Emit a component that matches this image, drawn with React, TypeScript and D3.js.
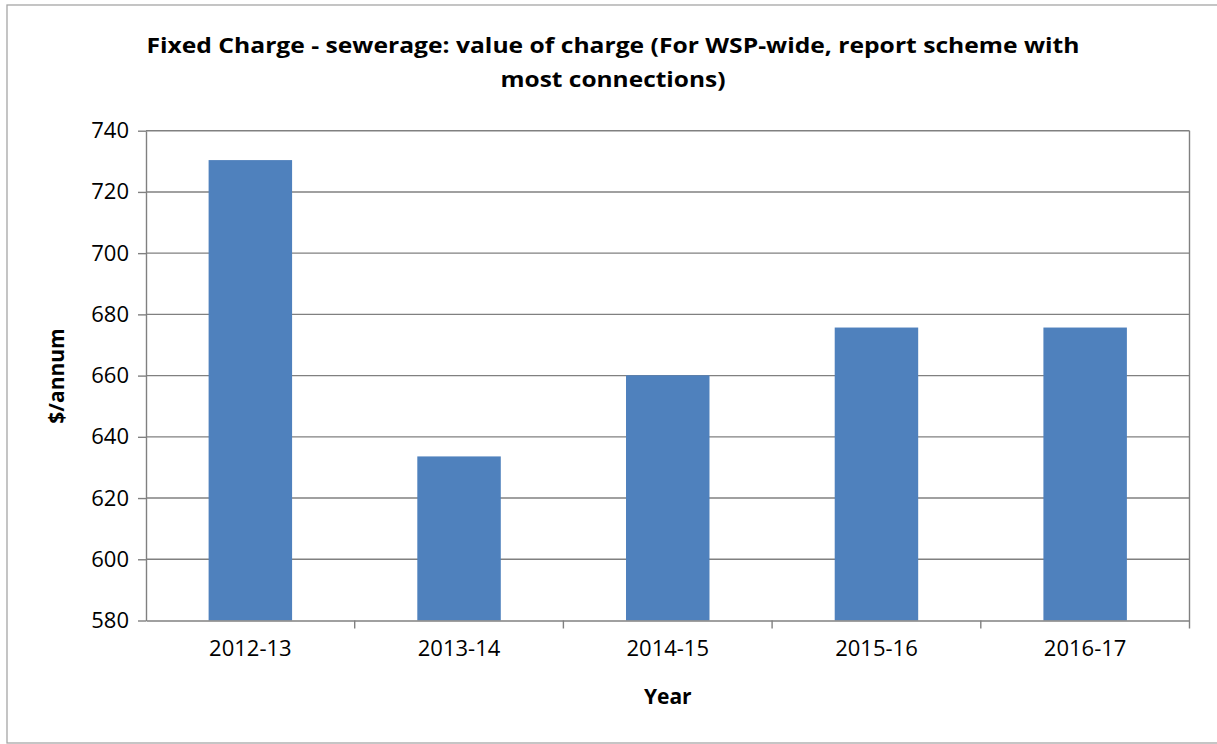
import React, { useEffect, useRef } from "react";
import { select, scaleBand, scaleLinear, axisLeft, axisBottom } from "d3";

const years = ["2012-13", "2013-14", "2014-15", "2015-16", "2016-17"];
const charges = [730.4, 633.6, 660.1, 675.7, 675.7];
const yTicks = [580, 600, 620, 640, 660, 680, 700, 720, 740];
const titleLines = [
  "Fixed Charge - sewerage: value of charge (For WSP-wide, report scheme with",
  "most connections)",
];

const W = 1217;
const H = 744;
const FONT = "'Open Sans', 'Liberation Sans', sans-serif";

function FixedChargeChart() {
  const svgRef = useRef<SVGSVGElement>(null);

  useEffect(() => {
    const root = select(svgRef.current);
    root.selectAll("*").remove();

    // chart area frame (right edge runs off the page)
    root
      .append("rect")
      .attr("x", 7)
      .attr("y", 5)
      .attr("width", W + 20)
      .attr("height", 738)
      .attr("fill", "#fff")
      .attr("stroke", "#a6a6a6")
      .attr("stroke-width", 1.3);

    const left = 146;
    const right = 1189.5;
    const top = 130.7;
    const bottom = 620.5;

    const x = scaleBand().domain(years).range([left, right]).paddingInner(0.6).paddingOuter(0.3);
    const y = scaleLinear().domain([580, 740]).range([bottom, top]);
    const band = (right - left) / years.length;

    // gridlines
    root
      .append("g")
      .selectAll("line")
      .data(yTicks.slice(1))
      .join("line")
      .attr("x1", left)
      .attr("x2", right)
      .attr("y1", (d) => y(d))
      .attr("y2", (d) => y(d))
      .attr("stroke", "#808080")
      .attr("stroke-width", 1.4);

    // right edge of plot area
    root
      .append("line")
      .attr("x1", right)
      .attr("x2", right)
      .attr("y1", top)
      .attr("y2", bottom + 8)
      .attr("stroke", "#808080")
      .attr("stroke-width", 1.4);

    root
      .append("g")
      .selectAll("rect")
      .data(charges)
      .join("rect")
      .attr("x", (_, i) => x(years[i]) as number)
      .attr("width", x.bandwidth())
      .attr("y", (d) => y(d))
      .attr("height", (d) => bottom - y(d))
      .attr("fill", "#4f81bd");

    // y axis
    const ya = root
      .append("g")
      .attr("transform", `translate(${left},0)`)
      .call(axisLeft(y).tickValues(yTicks).tickSize(8).tickPadding(9).tickSizeOuter(0));
    ya.select(".domain").attr("stroke", "#808080").attr("stroke-width", 1.4);
    ya.selectAll(".tick line").attr("stroke", "#808080").attr("stroke-width", 1.4);
    ya.selectAll(".tick text")
      .attr("font-family", FONT)
      .attr("font-size", 22)
      .attr("fill", "#000");

    // x axis: ticks between categories
    const xa = root
      .append("g")
      .attr("transform", `translate(0,${bottom})`)
      .call(axisBottom(x).tickSize(0).tickPadding(20).tickSizeOuter(0));
    xa.select(".domain").attr("stroke", "#808080").attr("stroke-width", 1.4);
    xa.selectAll(".tick text")
      .attr("font-family", FONT)
      .attr("font-size", 22)
      .attr("fill", "#000");
    xa.selectAll("line.sep")
      .data(years.slice(1))
      .join("line")
      .attr("class", "sep")
      .attr("x1", (_, i) => left + band * (i + 1))
      .attr("x2", (_, i) => left + band * (i + 1))
      .attr("y1", 0)
      .attr("y2", 8)
      .attr("stroke", "#808080")
      .attr("stroke-width", 1.4);

    // titles
    const tl = [
      { y: 53, len: 933 },
      { y: 87, len: 225 },
    ];
    root
      .append("g")
      .selectAll("text")
      .data(titleLines)
      .join("text")
      .attr("x", 613)
      .attr("y", (_, i) => tl[i].y)
      .attr("text-anchor", "middle")
      .attr("font-family", FONT)
      .attr("font-weight", "bold")
      .attr("font-size", 21)
      .attr("textLength", (_, i) => tl[i].len)
      .attr("lengthAdjust", "spacingAndGlyphs")
      .text((d) => d);

    root
      .append("text")
      .attr("x", (left + right) / 2)
      .attr("y", 704)
      .attr("text-anchor", "middle")
      .attr("font-family", FONT)
      .attr("font-weight", "bold")
      .attr("font-size", 21)
      .text("Year");

    root
      .append("text")
      .attr("transform", `translate(64,376) rotate(-90)`)
      .attr("text-anchor", "middle")
      .attr("font-family", FONT)
      .attr("font-weight", "bold")
      .attr("font-size", 21)
      .text("$/annum");
  }, []);

  return <svg width={W} height={H} ref={svgRef} style={{ display: "block" }}></svg>;
}

export default function App() {
  return (
    <div style={{ position: "absolute", left: 0, top: 0, background: "#fff" }}>
      <FixedChargeChart />
    </div>
  );
}
